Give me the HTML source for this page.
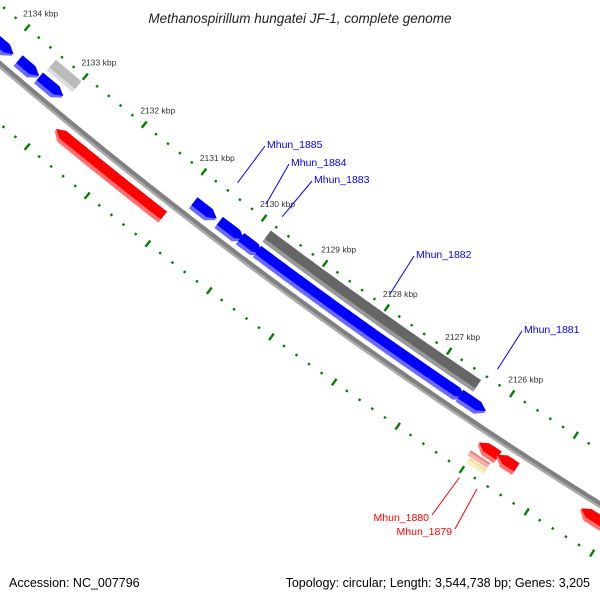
<!DOCTYPE html>
<html><head><meta charset="utf-8"><style>
body{margin:0;background:#fff}
svg{display:block;font-family:"Liberation Sans",sans-serif}
</style></head><body>
<svg id="map" width="600" height="600" viewBox="0 0 600 600">
<text x="300" y="23" text-anchor="middle" font-size="13.5" font-style="italic" fill="#222">Methanospirillum hungatei JF-1, complete genome</text>
<text x="9" y="587" font-size="12.5" fill="#000">Accession: NC_007796</text>
<text x="590" y="587" text-anchor="end" font-size="12.5" fill="#000">Topology: circular; Length: 3,544,738 bp; Genes: 3,205</text>
<g id="ticks"></g><g id="feats"></g><g id="labels"></g>
</svg>
<script>
const tickKbp=[2134,2133,2132,2131,2130,2129,2128,2127,2126];
const featStart=[2134.6,2133.81,2133.46,2133.44,2132.86,2130.86,2130.44,2130.09,2129.81,2129.83,2126.56,2126.01,2125.72,2126.04,2126.0,2124.43];
const featEnd=[2133.91,2133.47,2133.06,2133.0,2131.06,2130.49,2130.04,2129.74,2126.49,2126.44,2126.16,2125.70,2125.42,2125.74,2125.73,2123.5];
const featType=['blue','blue','blue','gray','red','blue','blue','blue','blue','dgray','blue','red','red','pink','yellow','red'];
const labelNames=['Mhun_1885','Mhun_1884','Mhun_1883','Mhun_1882','Mhun_1881','Mhun_1880','Mhun_1879'];
const labelKbp=[2130.56,2130.09,2129.82,2128.07,2126.34,2125.97,2125.7];
const CX=3279,CY=-3777,D=Math.PI/180;
function ang(k){return 123.56+(k-2126)*0.87;}
function P(r,a){return [CX+r*Math.cos(a*D),CY+r*Math.sin(a*D)];}
const NS='http://www.w3.org/2000/svg';
function mk(t,at,par){const e=document.createElementNS(NS,t);for(const k in at)e.setAttribute(k,at[k]);par.appendChild(e);return e;}
const tg=document.getElementById('ticks'),fg=document.getElementById('feats'),lg=document.getElementById('labels');
[[5005,'upper'],[5096,'lower']].forEach(([R,nm])=>{
  for(let i=0;i<=55;i++){const k=2135-i*0.2;const major=Math.abs(k-Math.round(k))<0.01;
    const a=ang(k);const h=major?4:1.2;const p1=P(R-h,a),p2=P(R+h,a);
    const l=mk('line',{x1:p1[0],y1:p1[1],x2:p2[0],y2:p2[1],stroke:'#008000','stroke-width':2.4},tg);
    
    }
});
tickKbp.forEach(k=>{const p=P(5005,ang(k));
  const t=mk('text',{x:p[0]-4,y:p[1]-11,'font-size':'8.5',fill:'#333'},tg);t.textContent=k+' kbp';
  
  });
function band(r1,r2,a,b,arrow,fill,par){
  const al=arrow?0.1:0;
  const outer=[];
  let s=arrow==='low'?b+al:b, e=arrow==='high'?a-al:a;
  for(let t=e;t>=s-1e-9;t-=0.02){outer.push(P(r1,t));}
  outer.push(P(r1,s));
  if(arrow==='low')outer.push(P((r1+r2)/2,b));
  const inn=[];for(let t=s;t<=e+1e-9;t+=0.02){inn.push(P(r2,t));}inn.push(P(r2,e));
  if(arrow==='high')inn.push(P((r1+r2)/2,a));
  const all=outer.concat(inn);
  return mk('polygon',{points:all.map(p=>p[0].toFixed(1)+','+p[1].toFixed(1)).join(' '),fill:fill},par);
}
let bb=band(5048,5054,131.5,121,null,'#aaaaaa',fg);
let bt=band(5047.5,5051.5,131.5,121,null,'#808080',fg);
const styles={blue:[5029,5043,'low','#0000ff','#6a6aff'],red:[5059,5073,'high','#ff0000','#ff7070'],gray:[5011,5025,null,'#bbbbbb','#dddddd'],dgray:[5011,5025,null,'#666666','#999999'],pink:[5075,5081,null,'#ee8080','#f5b0b0'],yellow:[5082,5088,null,'#eee090','#f8f0c0']};
featStart.forEach((s,i)=>{const st=styles[featType[i]];const a=ang(s),b=ang(featEnd[i]);
  const g=mk('g',{},fg);
  
  
  band(st[0],st[1],a,b,st[2],st[4],g);
  band(st[0],st[1]-4,a,b,st[2],st[3],g);});
const lblPos=[[267,148],[291,166],[314,183],[416,258],[524,333],[429,521],[452,535]];
labelNames.forEach((n,i)=>{const red=i>=5;const col=red?'#ff0000':'#0000ff';
  const fp=P(red?5104:4993,ang(labelKbp[i]));const lp=lblPos[i];
  const ln=mk('line',{x1:red?lp[0]+3:lp[0]-2,y1:red?lp[1]-6:lp[1]-2,x2:fp[0],y2:fp[1],stroke:col,'stroke-width':1},lg);
  
  
  const t=mk('text',{x:lp[0],y:lp[1],'font-size':'10.5',fill:col,'text-anchor':red?'end':'start'},lg);
  t.textContent=n;
  
  });
</script>
</body></html>
